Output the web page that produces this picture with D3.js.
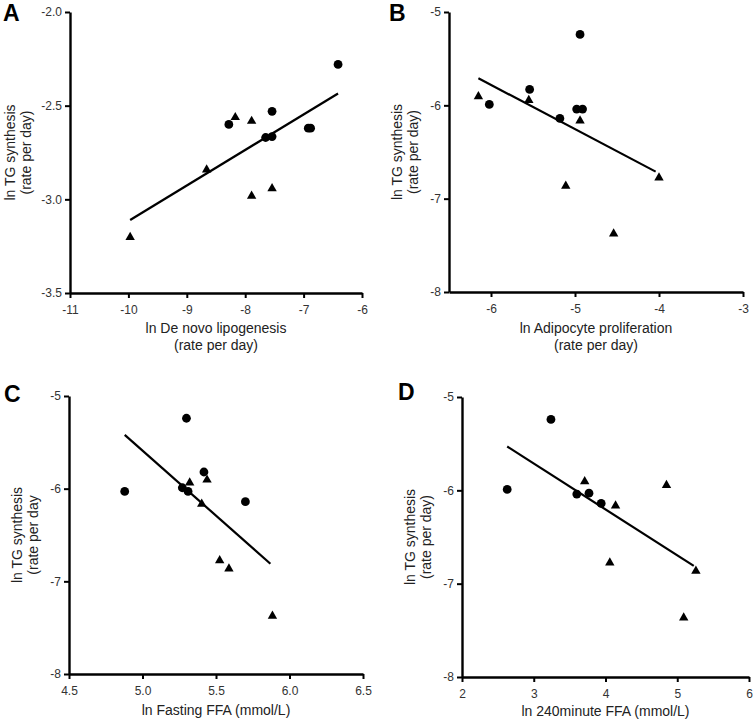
<!DOCTYPE html>
<html>
<head>
<meta charset="utf-8">
<script src="https://cdn.jsdelivr.net/npm/d3@7"></script>
<style>
  html, body { margin: 0; padding: 0; background: #fff; }
  svg { display: block; }
</style>
</head>
<body>
<svg id="chart" width="754" height="725" font-family="Liberation Sans, Arial, sans-serif"></svg>
<script>
// ---------------- DATA ----------------
// Panel A: ln De novo lipogenesis vs ln TG synthesis
const aCircles = [[-6.41, -2.28], [-8.28, -2.60], [-7.54, -2.53], [-7.65, -2.67], [-7.54, -2.665], [-6.92, -2.62], [-6.88, -2.62]];
const aTriangles = [[-8.17, -2.56], [-7.89, -2.58], [-8.66, -2.84], [-7.89, -2.98], [-7.54, -2.94], [-9.97, -3.20]];
const aLine = [[-9.97, -3.11], [-6.41, -2.435]];
const aXTicks = [-11, -10, -9, -8, -7, -6];
const aYTicks = [-2.0, -2.5, -3.0, -3.5];

// Panel B: ln Adipocyte proliferation vs ln TG synthesis
const bCircles = [[-4.94, -5.24], [-5.54, -5.83], [-6.02, -5.99], [-5.18, -6.14], [-4.98, -6.04], [-4.91, -6.04]];
const bTriangles = [[-6.15, -5.90], [-5.55, -5.94], [-4.94, -6.16], [-5.11, -6.86], [-4.54, -7.37], [-4.00, -6.77]];
const bLine = [[-6.15, -5.71], [-4.04, -6.71]];
const bXTicks = [-6, -5, -4, -3];
const bYTicks = [-5, -6, -7, -8];

// Panel C: ln Fasting FFA vs ln TG synthesis
const cCircles = [[4.879, -6.03], [5.299, -5.24], [5.418, -5.82], [5.271, -5.99], [5.31, -6.03], [5.70, -6.14]];
const cTriangles = [[5.321, -5.93], [5.439, -5.90], [5.403, -6.16], [5.525, -6.77], [5.588, -6.86], [5.884, -7.37]];
const cLine = [[4.879, -5.42], [5.87, -6.81]];
const cXTicks = [4.5, 5.0, 5.5, 6.0, 6.5];
const cYTicks = [-5, -6, -7, -8];

// Panel D: ln 240minute FFA vs ln TG synthesis
const dCircles = [[3.24, -5.24], [2.63, -5.99], [3.60, -6.04], [3.77, -6.03], [3.94, -6.14]];
const dTriangles = [[3.71, -5.90], [4.85, -5.94], [4.14, -6.16], [4.06, -6.77], [5.26, -6.86], [5.09, -7.36]];
const dLine = [[2.63, -5.53], [5.23, -6.81]];
const dXTicks = [2, 3, 4, 5, 6];
const dYTicks = [-5, -6, -7, -8];

// Labels
const panelLetters = ["A", "B", "C", "D"];
const yLabelLines = [["ln TG synthesis", "(rate per day)"], ["ln TG synthesis", "(rate per day)"], ["ln TG synthesis", "(rate per day"], ["ln TG synthesis", "(rate per day)"]];
const xLabelLines = [["ln De novo lipogenesis", "(rate per day)"], ["ln Adipocyte proliferation", "(rate per day)"], ["ln Fasting FFA (mmol/L)"], ["ln 240minute FFA (mmol/L)"]];

// ---------------- LAYOUT ----------------
const panels = [
  { letter: panelLetters[0], circles: aCircles, triangles: aTriangles, line: aLine, xTicks: aXTicks, yTicks: aYTicks,
    xDomain: [-11, -6], yDomain: [-3.5, -2.0], yFmt: ".1f", xFmt: "d",
    box: { l: 70, t: 12, r: 362, b: 293 }, letterPos: [3, 21], yLabelOff: 55, xLabelY: 333 },
  { letter: panelLetters[1], circles: bCircles, triangles: bTriangles, line: bLine, xTicks: bXTicks, yTicks: bYTicks,
    xDomain: [-6.5, -3], yDomain: [-8, -5], yFmt: "d", xFmt: "d",
    box: { l: 449, t: 12, r: 743, b: 292 }, letterPos: [389, 21], yLabelOff: 47, xLabelY: 333 },
  { letter: panelLetters[2], circles: cCircles, triangles: cTriangles, line: cLine, xTicks: cXTicks, yTicks: cYTicks,
    xDomain: [4.5, 6.5], yDomain: [-8, -5], yFmt: "d", xFmt: ".1f",
    box: { l: 69, t: 396, r: 363, b: 674 }, letterPos: [4, 402], yLabelOff: 47, xLabelY: 715 },
  { letter: panelLetters[3], circles: dCircles, triangles: dTriangles, line: dLine, xTicks: dXTicks, yTicks: dYTicks,
    xDomain: [2, 6], yDomain: [-8, -5], yFmt: "d", xFmt: "d",
    box: { l: 462, t: 397, r: 749, b: 677 }, letterPos: [398, 400], yLabelOff: 47, xLabelY: 716 }
];

const svg = d3.select("#chart");
const triPath = "M0,-5L4.7,3.2L-4.7,3.2Z";
const fmt = (f) => (v) => d3.format(f)(v).replace("\u2212", "-");

panels.forEach((p, i) => {
  const x = d3.scaleLinear().domain(p.xDomain).range([p.box.l, p.box.r]);
  const y = d3.scaleLinear().domain(p.yDomain).range([p.box.b, p.box.t]);
  const g = svg.append("g");

  // axes (D3 axis generators), styled through attributes
  const xAxis = d3.axisBottom(x).tickValues(p.xTicks).tickSize(5).tickSizeOuter(0).tickPadding(7).tickFormat(fmt(p.xFmt));
  const yAxis = d3.axisLeft(y).tickValues(p.yTicks).tickSize(5).tickSizeOuter(0).tickPadding(3).tickFormat(fmt(p.yFmt));
  const gx = g.append("g").attr("transform", `translate(0,${p.box.b})`).call(xAxis);
  const gy = g.append("g").attr("transform", `translate(${p.box.l},0)`).call(yAxis);
  [gx, gy].forEach(ax => {
    ax.attr("font-size", 12).attr("font-family", "Liberation Sans, Arial, sans-serif").attr("color", "#000");
    ax.selectAll("line").attr("stroke", "#000").attr("stroke-width", 2);
    ax.selectAll("path").attr("stroke", "#000").attr("stroke-width", 2.4);
    ax.selectAll("text").attr("fill", "#333").attr("font-size", 12);
  });

  // regression line
  g.append("path")
    .attr("d", d3.line().x(d => x(d[0])).y(d => y(d[1]))(p.line))
    .attr("fill", "none").attr("stroke", "#000").attr("stroke-width", 2.2);

  // circles
  g.selectAll("circle.pt").data(p.circles).join("circle").attr("class", "pt")
    .attr("cx", d => x(d[0])).attr("cy", d => y(d[1])).attr("r", 4.4).attr("fill", "#000");
  // triangles
  g.selectAll("path.tri").data(p.triangles).join("path").attr("class", "tri")
    .attr("d", triPath)
    .attr("transform", d => `translate(${x(d[0])},${y(d[1])})`).attr("fill", "#000");

  // panel letter
  g.append("text").attr("x", p.letterPos[0]).attr("y", p.letterPos[1])
    .attr("font-size", 23).attr("font-weight", "bold").attr("fill", "#000").text(p.letter);

  // y label
  const cy = (p.box.t + p.box.b) / 2;
  const yl = g.append("text")
    .attr("transform", `translate(${p.box.l - p.yLabelOff},${cy}) rotate(-90)`)
    .attr("text-anchor", "middle").attr("font-size", 14).attr("fill", "#222");
  yLabelLines[i].forEach((t, k) => yl.append("tspan").attr("x", 0).attr("y", k * 16).text(t));

  // x label
  const cx = (p.box.l + p.box.r) / 2;
  const xl = g.append("text").attr("text-anchor", "middle").attr("font-size", 14).attr("fill", "#222");
  xLabelLines[i].forEach((t, k) => xl.append("tspan").attr("x", cx).attr("y", p.xLabelY + k * 17).text(t));
});
</script>
</body>
</html>
